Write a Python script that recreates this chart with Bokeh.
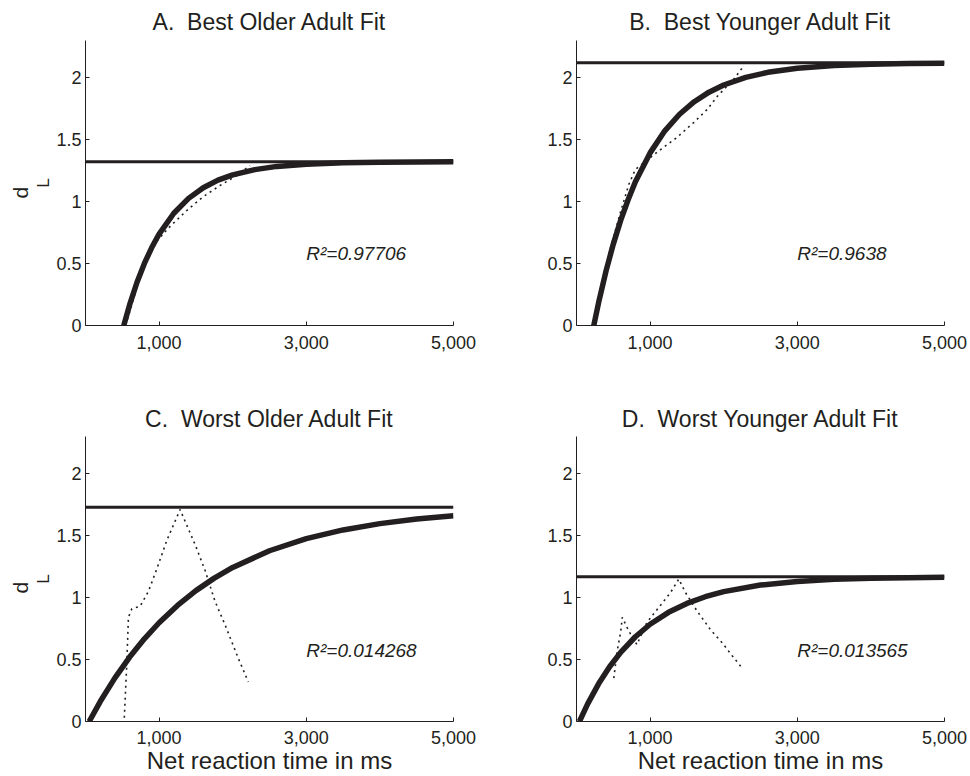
from bokeh.plotting import figure
from bokeh.models import Range1d, FixedTicker, NumeralTickFormatter, Label, Span, Title
from bokeh.layouts import column, row
from bokeh.embed import file_html
from bokeh.resources import INLINE

FONT = "Liberation Sans"
INK = "#231f20"

# ---------------- data ----------------
x_ticks = [1000, 3000, 5000]
y_ticks = [0, 0.5, 1, 1.5, 2]
x_limits = [0, 5000]
y_limits = [0, 2.3]

titles = ["A.\u00a0 Best Older Adult Fit", "B.\u00a0 Best Younger Adult Fit",
          "C.\u00a0 Worst Older Adult Fit", "D.\u00a0 Worst Younger Adult Fit"]
r2_labels = ["R\u00b2=0.97706", "R\u00b2=0.9638", "R\u00b2=0.014268", "R\u00b2=0.013565"]
r2_pos_x = [3000, 3000, 3000, 3000]
r2_pos_y = [0.58, 0.58, 0.57, 0.57]
x_label = "Net reaction time in ms"
y_label_main = "d"
y_label_sub = "L"

# fitted curves
fit_t_A = [520, 600, 700, 800, 900, 1000, 1200, 1400, 1600, 1800, 2000, 2300, 2600, 3000, 3500, 4000, 4500, 5000]
fit_d_A = [0, 0.168, 0.349, 0.501, 0.629, 0.738, 0.906, 1.026, 1.112, 1.173, 1.215, 1.258, 1.284, 1.302, 1.314, 1.318, 1.320, 1.321]
asym_A = 1.322

fit_t_B = [235, 300, 400, 500, 600, 700, 800, 1000, 1200, 1400, 1600, 1800, 2000, 2300, 2600, 3000, 3500, 4000, 4500, 5000]
fit_d_B = [0, 0.184, 0.437, 0.657, 0.848, 1.013, 1.160, 1.393, 1.571, 1.705, 1.806, 1.883, 1.941, 2.002, 2.043, 2.076, 2.098, 2.109, 2.115, 2.117]
asym_B = 2.12

fit_t_C = [50, 200, 400, 600, 800, 1000, 1250, 1500, 1750, 2000, 2500, 3000, 3500, 4000, 4500, 5000]
fit_d_C = [0, 0.161, 0.352, 0.520, 0.667, 0.797, 0.937, 1.056, 1.157, 1.243, 1.378, 1.476, 1.546, 1.597, 1.634, 1.661]
asym_C = 1.73

fit_t_D = [40, 150, 300, 450, 600, 800, 1000, 1250, 1500, 1750, 2000, 2500, 3000, 3500, 4000, 4500, 5000]
fit_d_D = [0, 0.140, 0.304, 0.442, 0.558, 0.684, 0.785, 0.881, 0.953, 1.007, 1.048, 1.101, 1.130, 1.147, 1.156, 1.161, 1.164]
asym_D = 1.168

# observed data (dotted)
obs_t_A = [570, 765, 968, 1149, 1398, 1601, 1828, 2054, 2235]
obs_d_A = [0.05, 0.44, 0.68, 0.80, 0.94, 1.04, 1.13, 1.21, 1.29]

obs_t_B = [300, 450, 600, 712, 800, 950, 1098, 1234, 1370, 1596, 1778, 1914, 2140, 2254]
obs_d_B = [0.20, 0.60, 0.92, 1.14, 1.26, 1.33, 1.40, 1.46, 1.52, 1.64, 1.745, 1.85, 1.99, 2.08]

obs_t_C = [527, 560, 583, 630, 742, 855, 968, 1104, 1285, 1488, 1624, 1760, 1896, 2076, 2212]
obs_d_C = [0.03, 0.45, 0.84, 0.91, 0.93, 1.05, 1.23, 1.46, 1.71, 1.43, 1.22, 0.97, 0.78, 0.51, 0.32]

obs_t_D = [507, 553, 600, 622, 711, 820, 958, 1117, 1277, 1390, 1481, 1640, 1821, 1980, 2116, 2252]
obs_d_D = [0.35, 0.57, 0.72, 0.84, 0.73, 0.62, 0.80, 0.92, 1.04, 1.15, 1.04, 0.89, 0.74, 0.635, 0.53, 0.43]


def make_panel(idx, fit_t, fit_d, asym, obs_t, obs_d, w, h, left, right, top, bottom,
               ylabel, xlabel, title_standoff, d_offset=127):
    p = figure(width=w, height=h,
               x_range=Range1d(*x_limits), y_range=Range1d(*y_limits),
               output_backend="svg", toolbar_location=None,
               min_border_left=left, min_border_right=right,
               min_border_top=top, min_border_bottom=bottom)
    p.outline_line_color = None
    p.background_fill_color = "white"
    p.border_fill_color = "white"
    p.xgrid.visible = False
    p.ygrid.visible = False

    p.title.text = titles[idx]
    p.title.align = "center"
    p.title.text_font = FONT
    p.title.text_font_size = "23px"
    p.title.text_font_style = "normal"
    p.title.text_color = INK
    p.title.standoff = title_standoff

    for ax in (p.xaxis[0], p.yaxis[0]):
        ax.axis_line_color = INK
        ax.axis_line_width = 1
        ax.major_tick_line_color = INK
        ax.major_tick_in = 4
        ax.major_tick_out = 0
        ax.minor_tick_in = 0
        ax.minor_tick_out = 0
        ax.minor_tick_line_color = None
        ax.major_label_text_font = FONT
        ax.major_label_text_font_size = "18px"
        ax.major_label_text_color = INK
    p.xaxis[0].ticker = FixedTicker(ticks=x_ticks)
    p.yaxis[0].ticker = FixedTicker(ticks=y_ticks)
    p.xaxis[0].formatter = NumeralTickFormatter(format="0,0")
    p.yaxis[0].formatter = NumeralTickFormatter(format="0.[0]")
    p.xaxis[0].major_label_standoff = 9 if xlabel else 10
    p.yaxis[0].major_label_standoff = 4

    if xlabel:
        ax = p.xaxis[0]
        ax.axis_label = x_label
        ax.axis_label_text_font = FONT
        ax.axis_label_text_font_size = "24px"
        ax.axis_label_text_font_style = "normal"
        ax.axis_label_text_color = INK
        ax.axis_label_standoff = 0

    if ylabel:
        ay = p.yaxis[0]
        ay.axis_label = y_label_sub
        ay.axis_label_text_font = FONT
        ay.axis_label_text_font_size = "17px"
        ay.axis_label_text_font_style = "normal"
        ay.axis_label_text_color = INK
        ay.axis_label_standoff = 0
        p.add_layout(Title(text=y_label_main, align="left", offset=d_offset, standoff=0,
                           text_font=FONT, text_font_size="21px",
                           text_font_style="normal", text_color=INK), "left")

    p.add_layout(Span(location=asym, dimension="width", line_color=INK, line_width=3))
    p.line(obs_t, obs_d, line_color=INK, line_width=1.6, line_dash="2 4")
    p.line(fit_t, fit_d, line_color=INK, line_width=5.5, line_cap="butt")

    p.add_layout(Label(x=r2_pos_x[idx], y=r2_pos_y[idx], text=r2_labels[idx],
                       text_font=FONT, text_font_size="19px", text_font_style="italic",
                       text_color=INK, text_align="left", text_baseline="alphabetic"))
    return p


TOP_H = 397
BOT_H = 776 - TOP_H
pA = make_panel(0, fit_t_A, fit_d_A, asym_A, obs_t_A, obs_d_A, 500, TOP_H, 85, 47, 40, 72, True, False, 11, 127)
pB = make_panel(1, fit_t_B, fit_d_B, asym_B, obs_t_B, obs_d_B, 470, TOP_H, 76, 26, 40, 72, False, False, 11)
pC = make_panel(2, fit_t_C, fit_d_C, asym_C, obs_t_C, obs_d_C, 500, BOT_H, 85, 47, 39, 55, True, True, 10, 128)
pD = make_panel(3, fit_t_D, fit_d_D, asym_D, obs_t_D, obs_d_D, 470, BOT_H, 76, 26, 39, 55, False, True, 10)

layout = column(row(pA, pB), row(pC, pD))
open("out.html", "w").write(file_html(layout, INLINE))
